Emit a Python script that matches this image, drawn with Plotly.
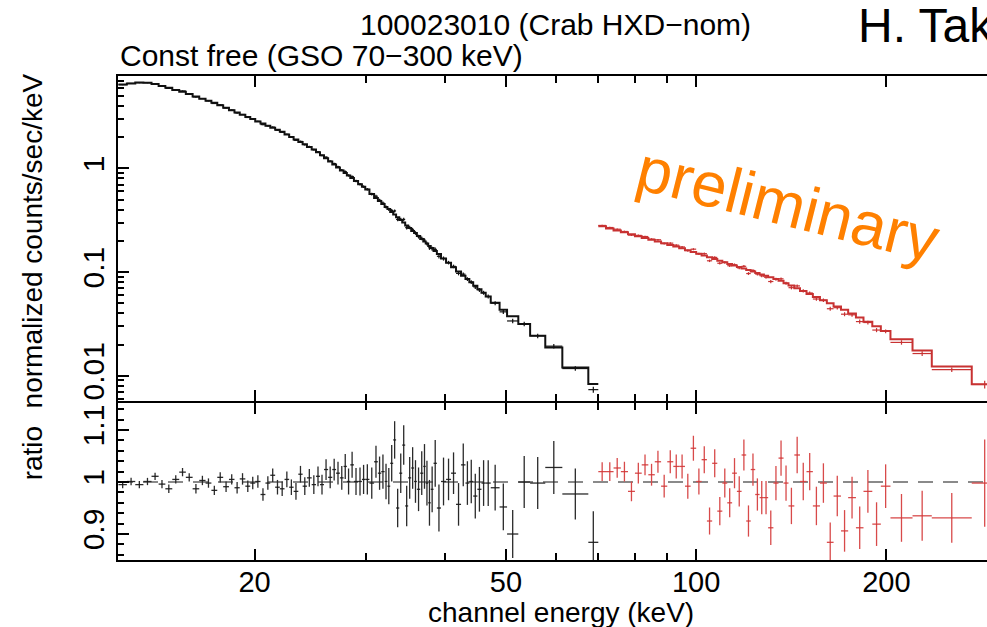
import math
import plotly.graph_objects as go

# ---------------- data ----------------
# HXD-PIN (black): bin edges in keV, model (counts/s/keV), data/model ratio, ratio error
pin_edges = [12.18, 12.56, 12.95, 13.34, 13.74, 14.10, 14.45, 14.82, 15.20, 15.57,
             15.96, 16.35, 16.73, 17.09, 17.46, 17.84, 18.22, 18.59, 18.95, 19.34,
             19.69, 20.05, 20.44, 20.81, 21.18, 21.56, 21.93, 22.31, 22.69, 23.06,
             23.46, 23.83, 24.21, 24.63, 25.02, 25.39, 25.76, 26.15, 26.55, 26.92,
             27.30, 27.67, 28.00, 28.35, 28.73, 29.17, 29.58, 29.94, 30.40, 30.92,
             31.35, 31.74, 32.13, 32.46, 32.79, 33.15, 33.50, 33.89, 34.26, 34.63,
             35.01, 35.40, 35.77, 36.14, 36.58, 36.99, 37.32, 37.66, 38.01, 38.40,
             38.87, 39.46, 40.19, 40.93, 41.68, 42.45, 43.14, 43.75, 44.37, 45.05,
             45.73, 46.44, 47.30, 48.85, 50.20, 52.30, 54.60, 57.70, 61.40, 67.50,
             70.00]
pin_model = [6.465, 6.613, 6.752, 6.718, 6.514, 6.252, 5.998, 5.726, 5.495, 5.220,
             4.958, 4.708, 4.498, 4.303, 4.074, 3.859, 3.644, 3.474, 3.297, 3.128,
             2.997, 2.845, 2.713, 2.585, 2.473, 2.358, 2.261, 2.124, 2.016, 1.902,
             1.798, 1.711, 1.613, 1.525, 1.433, 1.340, 1.253, 1.166, 1.089, 1.023,
             0.957, 0.906, 0.856, 0.809, 0.756, 0.704, 0.664, 0.626, 0.5655, 0.5195,
             0.4858, 0.4544, 0.4249, 0.4061, 0.3798, 0.3600, 0.3389, 0.3173, 0.3009, 0.2813,
             0.2668, 0.2495, 0.2381, 0.2230, 0.2080, 0.1975, 0.1885, 0.1788, 0.1705, 0.1597,
             0.1494, 0.1351, 0.1228, 0.1116, 0.1015, 0.0924, 0.0857, 0.0799, 0.0740, 0.0682,
             0.0633, 0.0582, 0.0506, 0.0434, 0.0375, 0.0316, 0.0243, 0.01875, 0.0120, 0.0083]
pin_ratio = [0.995, 1.001, 0.995, 1.001, 1.011, 0.996, 0.987, 1.005, 1.019, 1.009,
             0.987, 1.003, 0.998, 0.984, 1.009, 0.991, 1.005, 0.989, 1.006, 0.992,
             0.998, 1.001, 0.976, 0.998, 1.013, 0.990, 0.987, 1.005, 0.990, 0.982,
             1.015, 0.992, 1.008, 0.995, 1.011, 0.995, 1.024, 1.009, 1.024, 1.017,
             1.008, 1.030, 1.001, 1.033, 1.001, 1.001, 1.005, 1.005, 0.998, 1.039,
             1.017, 1.020, 1.001, 0.992, 1.036, 1.081, 0.950, 1.017, 1.071, 0.954,
             1.008, 1.027, 1.001, 0.986, 1.017, 1.030, 0.998, 0.960, 0.986, 1.036,
             0.950, 1.001, 1.005, 1.017, 0.957, 1.033, 0.998, 1.001, 0.973, 0.986,
             0.998, 0.998, 0.989, 0.952, 0.900, 1.000, 0.998, 1.028, 0.977, 0.884]
pin_err = [0.007, 0.007, 0.007, 0.007, 0.007, 0.008, 0.008, 0.008, 0.008, 0.008,
           0.009, 0.009, 0.009, 0.009, 0.010, 0.010, 0.010, 0.011, 0.011, 0.011,
           0.012, 0.012, 0.012, 0.013, 0.013, 0.014, 0.014, 0.015, 0.015, 0.016,
           0.016, 0.017, 0.017, 0.018, 0.019, 0.019, 0.020, 0.021, 0.021, 0.022,
           0.023, 0.024, 0.025, 0.025, 0.026, 0.027, 0.028, 0.029, 0.030, 0.031,
           0.032, 0.033, 0.034, 0.035, 0.035, 0.036, 0.037, 0.038, 0.038, 0.039,
           0.040, 0.040, 0.041, 0.042, 0.042, 0.043, 0.043, 0.044, 0.044, 0.045,
           0.045, 0.046, 0.040, 0.040, 0.041, 0.041, 0.042, 0.042, 0.043, 0.043,
           0.044, 0.044, 0.044, 0.045, 0.046, 0.050, 0.050, 0.051, 0.049, 0.060]

# HXD-GSO (red)
gso_edges = [70, 72, 74, 76, 78, 80, 82, 84, 86, 88,
             90, 92, 94, 96, 98, 100, 102, 104, 106, 108,
             110, 112, 114, 116, 118, 120, 122, 124, 126, 128,
             130, 132.5, 135, 137.5, 140, 143, 146, 149.5, 153, 157,
             161, 165, 169.5, 174, 179, 184, 190, 196, 203, 220,
             236, 273, 300]
gso_model = [0.2763, 0.2639, 0.2523, 0.2416, 0.2315, 0.2221, 0.2133, 0.2050, 0.1972, 0.1899,
             0.1830, 0.1766, 0.1697, 0.1627, 0.1562, 0.1501, 0.1443, 0.1389, 0.1337, 0.1289,
             0.1243, 0.1199, 0.1158, 0.1118, 0.1081, 0.1046, 0.1012, 0.0980, 0.0949, 0.0920,
             0.0889, 0.0856, 0.0823, 0.0782, 0.0741, 0.0699, 0.0657, 0.0616, 0.0576, 0.0536,
             0.0501, 0.0466, 0.0433, 0.0399, 0.0365, 0.0332, 0.0300, 0.0270, 0.0225, 0.0175,
             0.01227, 0.00825]
gso_ratio = [1.020, 1.020, 1.027, 1.020, 0.982, 1.017, 1.033, 1.014, 1.039, 0.992,
             1.039, 1.030, 1.030, 0.992, 1.065, 1.001, 1.043, 0.925, 1.036, 0.944,
             0.998, 0.960, 1.017, 0.982, 1.052, 0.925, 1.024, 0.976, 0.970, 0.970,
             0.912, 0.998, 1.046, 0.998, 0.954, 1.052, 1.001, 1.020, 0.954, 0.998,
             0.884, 0.973, 0.906, 0.970, 0.912, 0.982, 0.919, 0.992, 0.931, 0.935,
             0.931, 0.998]
gso_err = [0.018, 0.018, 0.019, 0.019, 0.019, 0.020, 0.020, 0.021, 0.021, 0.022,
           0.022, 0.023, 0.023, 0.024, 0.024, 0.025, 0.026, 0.026, 0.027, 0.027,
           0.028, 0.028, 0.029, 0.029, 0.030, 0.030, 0.031, 0.031, 0.032, 0.032,
           0.033, 0.033, 0.034, 0.034, 0.035, 0.035, 0.036, 0.036, 0.037, 0.038,
           0.038, 0.039, 0.040, 0.040, 0.041, 0.041, 0.042, 0.042, 0.046, 0.048,
           0.048, 0.084]

# axis ticks
x_range_kev = [12.16, 288.6]
x_major = [20, 50, 100, 200]
x_major_text = ["20", "50", "100", "200"]
x_minor = [30, 40, 60, 70, 80, 90, 300]
spec_range = [0.0057, 7.8]
spec_major = [0.01, 0.1, 1]
spec_major_text = ["0.01", "0.1", "1"]
spec_minor = [0.006, 0.007, 0.008, 0.009, 0.02, 0.03, 0.04, 0.05, 0.06, 0.07, 0.08, 0.09,
              0.2, 0.3, 0.4, 0.5, 0.6, 0.7, 0.8, 0.9, 2, 3, 4, 5, 6, 7]
ratio_range = [0.85, 1.152]
ratio_major = [0.9, 1.0, 1.1]
ratio_major_text = ["0.9", "1", "1.1"]

BLACK = "#111111"
RED_LINE = "#c83232"
RED_BAR = "#d84a4a"
FONT = "Liberation Sans, Arial, Helvetica, sans-serif"


def bin_geometry(edges):
    lo = edges[:-1]
    hi = edges[1:]
    cen = [math.sqrt(a * b) for a, b in zip(lo, hi)]
    minus = [c - a for c, a in zip(cen, lo)]
    plus = [b - c for b, c in zip(hi, cen)]
    return cen, minus, plus


fig = go.Figure()

for edges, model, ratio, err, lcol, bcol in [
    (pin_edges, pin_model, pin_ratio, pin_err, BLACK, "#2a2a2a"),
    (gso_edges, gso_model, gso_ratio, gso_err, RED_LINE, RED_BAR),
]:
    cen, minus, plus = bin_geometry(edges)
    data = [m * r for m, r in zip(model, ratio)]
    derr = [m * e for m, e in zip(model, err)]
    # model histogram (top panel)
    fig.add_trace(go.Scatter(
        x=edges, y=model + [model[-1]], mode="lines",
        line=dict(shape="hv", color=lcol, width=2),
        xaxis="x2", yaxis="y2", hoverinfo="skip", showlegend=False))
    # data crosses (top panel)
    fig.add_trace(go.Scatter(
        x=cen, y=data, mode="markers", marker=dict(size=1, color=lcol),
        error_x=dict(type="data", symmetric=False, array=plus, arrayminus=minus,
                     width=0, thickness=1.2, color=lcol),
        error_y=dict(type="data", array=derr, width=0, thickness=1.2, color=lcol),
        xaxis="x2", yaxis="y2", showlegend=False))
    # ratio crosses (bottom panel)
    fig.add_trace(go.Scatter(
        x=cen, y=ratio, mode="markers", marker=dict(size=1, color=lcol),
        error_x=dict(type="data", symmetric=False, array=plus, arrayminus=minus,
                     width=0, thickness=1.3, color=bcol),
        error_y=dict(type="data", array=err, width=0, thickness=1.3, color=bcol),
        xaxis="x", yaxis="y", showlegend=False))

# panel layout: top panel 76..401 px, ratio panel 403..560 px (2 px for the shared frame line)
top_lo = 159 / 484.0
ratio_hi = 157 / 484.0

axis_common = dict(
    showline=True, linecolor="black", linewidth=2,
    ticks="inside", tickcolor="black", tickwidth=1.5, ticklen=11,
    showgrid=False, zeroline=False,
)
x_minor_spec = dict(tickmode="array", tickvals=x_minor, ticks="inside", ticklen=7,
                    tickwidth=1.5, tickcolor="black", showgrid=False)

fig.update_layout(
    width=987, height=627,
    margin=dict(l=118, r=0, t=76, b=67),
    paper_bgcolor="white", plot_bgcolor="white",
    font=dict(family=FONT, color="black"),
    xaxis=dict(
        type="log", range=[math.log10(x_range_kev[0]), math.log10(x_range_kev[1])],
        domain=[0, 1], anchor="y", mirror="ticks",
        tickmode="array", tickvals=x_major, ticktext=x_major_text,
        tickfont=dict(family=FONT, size=29, color="black"), ticklabelstandoff=-5,
        minor=x_minor_spec, **axis_common),
    xaxis2=dict(
        type="log", matches="x", domain=[0, 1], anchor="y2", mirror="ticks",
        showticklabels=False,
        tickmode="array", tickvals=x_major, ticktext=x_major_text,
        minor=x_minor_spec, **axis_common),
    yaxis=dict(
        domain=[0, ratio_hi], range=ratio_range, anchor="x",
        tickmode="array", tickvals=ratio_major, ticktext=ratio_major_text,
        tickangle=-90, tickfont=dict(family=FONT, size=30, color="black"),
        minor=dict(dtick=0.02, tick0=0.9, ticks="inside", ticklen=6,
                   tickwidth=1.5, tickcolor="black", showgrid=False),
        **axis_common),
    yaxis2=dict(
        type="log", domain=[top_lo, 1],
        range=[math.log10(spec_range[0]), math.log10(spec_range[1])], anchor="x2",
        tickmode="array", tickvals=spec_major, ticktext=spec_major_text,
        tickangle=-90, tickfont=dict(family=FONT, size=30, color="black"),
        minor=dict(tickmode="array", tickvals=spec_minor, ticks="inside", ticklen=6,
                   tickwidth=1.5, tickcolor="black", showgrid=False),
        **axis_common),
    shapes=[dict(type="line", xref="x domain", yref="y", x0=0, x1=1, y0=1, y1=1,
                 line=dict(color="#8a8a8a", width=2, dash="15px,10px"), layer="below")],
)

ann = [
    dict(text="100023010 (Crab HXD−nom)", x=0.504, y=1.106, xanchor="center",
         yanchor="middle", font=dict(size=30)),
    dict(text="Const free (GSO 70−300 keV)", x=0.0, y=1.042, xanchor="left",
         yanchor="middle", font=dict(size=30)),
    dict(text="H. Tak", x=0.8493, y=1.104, xanchor="left", yanchor="middle",
         font=dict(size=48)),
    dict(text="preliminary", x=0.772, y=0.735, xanchor="center", yanchor="middle",
         textangle=14, font=dict(size=63, color="#ff8000")),
    dict(text="normalized counts/sec/keV", x=-0.098, y=0.66, xanchor="center",
         yanchor="middle", textangle=-90, font=dict(size=28)),
    dict(text="ratio", x=-0.098, y=0.22, xanchor="center", yanchor="middle",
         textangle=-90, font=dict(size=28)),
    dict(text="channel energy (keV)", x=0.51, y=-0.109, xanchor="center",
         yanchor="middle", font=dict(size=28)),
]
for a in ann:
    a.update(xref="paper", yref="paper", showarrow=False)
    a["font"] = dict(family=FONT, color=a["font"].get("color", "black"), size=a["font"]["size"])
fig.update_layout(annotations=ann)

fig.write_html("out.html")
